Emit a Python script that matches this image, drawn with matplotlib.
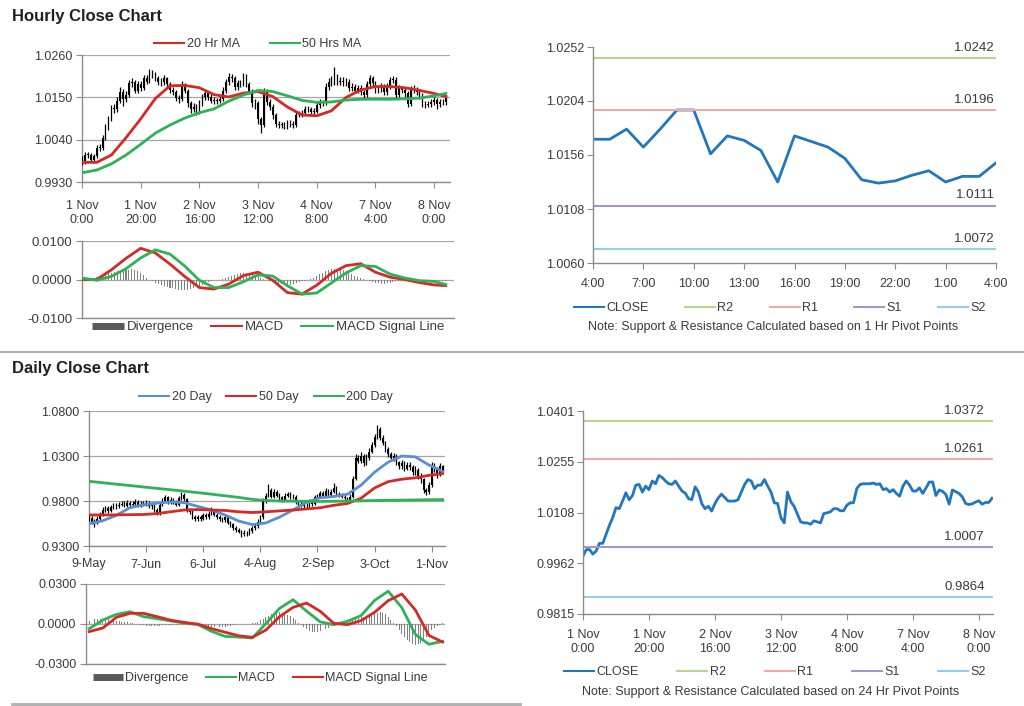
import matplotlib
matplotlib.use("Agg")  # no display
import matplotlib.pyplot as plt
from matplotlib.lines import Line2D

plt.rcParams["font.family"] = ["Liberation Sans", "DejaVu Sans"]

W, H = 1024, 706

# ---------------- hourly data (1 Nov 0:00 .. 8 Nov 4:00) ----------------
HOURLY_OPEN0 = 0.9990
HOURLY_CLOSE = [
    0.9982, 1.0001, 1.0001, 0.9988, 0.9997, 1.0019, 1.0019, 1.0045, 1.0071, 1.0093,
    1.0122, 1.0119, 1.0141, 1.0165, 1.0145, 1.0157, 1.0187, 1.0189, 1.0167, 1.0184,
    1.0174, 1.0199, 1.0191, 1.0215, 1.0209, 1.0199, 1.0191, 1.0189, 1.0199, 1.0184,
    1.0170, 1.0164, 1.0148, 1.0145, 1.0182, 1.0167, 1.0134, 1.0119, 1.0126, 1.0112,
    1.0134, 1.0150, 1.0161, 1.0151, 1.0141, 1.0141, 1.0141, 1.0145, 1.0167, 1.0189,
    1.0203, 1.0199, 1.0177, 1.0187, 1.0187, 1.0203, 1.0184, 1.0167, 1.0136, 1.0134,
    1.0093, 1.0078, 1.0167, 1.0139, 1.0126, 1.0103, 1.0081, 1.0078, 1.0078, 1.0074,
    1.0084, 1.0081, 1.0078, 1.0105, 1.0107, 1.0110, 1.0119, 1.0119, 1.0113, 1.0113,
    1.0129, 1.0136, 1.0136, 1.0177, 1.0189, 1.0191, 1.0191, 1.0191, 1.0193, 1.0189,
    1.0191, 1.0174, 1.0177, 1.0167, 1.0174, 1.0163, 1.0155, 1.0184, 1.0199, 1.0187,
    1.0170, 1.0170, 1.0179, 1.0163, 1.0179, 1.0196, 1.0196, 1.0157, 1.0173, 1.0169,
    1.0160, 1.0132, 1.0173, 1.0168, 1.0163, 1.0153, 1.0134, 1.0131, 1.0133, 1.0138,
    1.0142, 1.0132, 1.0137, 1.0137, 1.0149,
]
HOURLY_HIGH = [
    0.9998, 1.0008, 1.0009, 1.0006, 1.0004, 1.0025, 1.0028, 1.0052, 1.0080, 1.0102,
    1.0130, 1.0133, 1.0150, 1.0178, 1.0172, 1.0166, 1.0196, 1.0200, 1.0195, 1.0193,
    1.0192, 1.0208, 1.0207, 1.0224, 1.0222, 1.0216, 1.0206, 1.0199, 1.0207, 1.0204,
    1.0190, 1.0178, 1.0170, 1.0156, 1.0192, 1.0188, 1.0172, 1.0140, 1.0135, 1.0132,
    1.0142, 1.0158, 1.0170, 1.0166, 1.0158, 1.0150, 1.0149, 1.0154, 1.0176, 1.0198,
    1.0214, 1.0210, 1.0205, 1.0196, 1.0195, 1.0212, 1.0210, 1.0190, 1.0172, 1.0145,
    1.0140, 1.0100, 1.0175, 1.0172, 1.0146, 1.0132, 1.0110, 1.0088, 1.0086, 1.0085,
    1.0092, 1.0090, 1.0088, 1.0113, 1.0115, 1.0118, 1.0127, 1.0128, 1.0126, 1.0122,
    1.0138, 1.0145, 1.0144, 1.0186, 1.0200, 1.0205, 1.0228, 1.0210, 1.0203, 1.0202,
    1.0200, 1.0198, 1.0186, 1.0185, 1.0182, 1.0181, 1.0170, 1.0193, 1.0208, 1.0205,
    1.0193, 1.0179, 1.0188, 1.0185, 1.0187, 1.0204, 1.0206, 1.0202, 1.0181, 1.0180,
    1.0176, 1.0166, 1.0180, 1.0182, 1.0176, 1.0170, 1.0160, 1.0141, 1.0140, 1.0146,
    1.0150, 1.0148, 1.0145, 1.0145, 1.0156,
]
HOURLY_LOW = [
    0.9975, 0.9978, 0.9993, 0.9981, 0.9982, 0.9992, 1.0010, 1.0014, 1.0040, 1.0065,
    1.0088, 1.0110, 1.0112, 1.0136, 1.0128, 1.0138, 1.0150, 1.0176, 1.0160, 1.0160,
    1.0166, 1.0168, 1.0184, 1.0186, 1.0200, 1.0192, 1.0183, 1.0180, 1.0182, 1.0176,
    1.0162, 1.0155, 1.0140, 1.0136, 1.0140, 1.0160, 1.0125, 1.0110, 1.0112, 1.0104,
    1.0106, 1.0128, 1.0144, 1.0144, 1.0134, 1.0132, 1.0133, 1.0135, 1.0140, 1.0160,
    1.0182, 1.0190, 1.0170, 1.0170, 1.0178, 1.0180, 1.0176, 1.0158, 1.0126, 1.0120,
    1.0082, 1.0058, 1.0072, 1.0130, 1.0116, 1.0094, 1.0073, 1.0070, 1.0070, 1.0067,
    1.0068, 1.0073, 1.0071, 1.0074, 1.0098, 1.0100, 1.0104, 1.0111, 1.0106, 1.0105,
    1.0108, 1.0122, 1.0128, 1.0130, 1.0170, 1.0180, 1.0182, 1.0182, 1.0183, 1.0180,
    1.0180, 1.0166, 1.0166, 1.0160, 1.0160, 1.0155, 1.0146, 1.0150, 1.0178, 1.0180,
    1.0162, 1.0162, 1.0163, 1.0155, 1.0157, 1.0172, 1.0188, 1.0148, 1.0150, 1.0160,
    1.0152, 1.0124, 1.0127, 1.0160, 1.0155, 1.0145, 1.0126, 1.0123, 1.0124, 1.0126,
    1.0130, 1.0120, 1.0125, 1.0129, 1.0130,
]
HOURLY_TICK_STEP = 20
HOURLY_TICKS = ["1 Nov\n0:00", "1 Nov\n20:00", "2 Nov\n16:00", "3 Nov\n12:00",
                "4 Nov\n8:00", "7 Nov\n4:00", "8 Nov\n0:00"]

# moving averages / MACD read every MA_STEP bars (last point = last bar)
MA_STEP = 5
HOURLY_MA20 = [
    0.9981, 0.9981, 1.0000, 1.0045, 1.0094, 1.0147, 1.0180, 1.0181, 1.0175, 1.0157,
    1.0151, 1.0161, 1.0165, 1.0152, 1.0125, 1.0104, 1.0102, 1.0115, 1.0150, 1.0169,
    1.0178, 1.0178, 1.0175, 1.0168, 1.0160, 1.0152,
]
HOURLY_MA50 = [
    0.9954, 0.9961, 0.9977, 1.0000, 1.0028, 1.0057, 1.0078, 1.0096, 1.0110, 1.0120,
    1.0140, 1.0156, 1.0168, 1.0165, 1.0154, 1.0142, 1.0137, 1.0138, 1.0143, 1.0145,
    1.0145, 1.0145, 1.0146, 1.0148, 1.0154, 1.0160,
]
HOURLY_MACD = [
    0.0000, 0.0000, 0.0025, 0.0055, 0.0081, 0.0069, 0.0040, 0.0008, -0.0021, -0.0025,
    -0.0012, 0.0010, 0.0019, -0.0002, -0.0034, -0.0038, -0.0015, 0.0016, 0.0036, 0.0041,
    0.0019, 0.0006, 0.0000, -0.0008, -0.0014, -0.0016,
]
HOURLY_SIGNAL = [
    0.0004, -0.0002, 0.0008, 0.0028, 0.0056, 0.0077, 0.0066, 0.0035, -0.0002, -0.0021,
    -0.0021, -0.0006, 0.0012, 0.0009, -0.0016, -0.0038, -0.0035, -0.0009, 0.0017, 0.0036,
    0.0034, 0.0014, 0.0004, -0.0003, -0.0005, -0.0013,
]
HOURLY_DIVERGENCE = [
    0.0000, 0.0001, 0.0002, 0.0003, 0.0005, 0.0007, 0.0009, 0.0012, 0.0014, 0.0016,
    0.0018, 0.0019, 0.0021, 0.0022, 0.0024, 0.0025, 0.0025, 0.0026, 0.0025, 0.0023,
    0.0018, 0.0012, 0.0005, -0.0001, -0.0005, -0.0008, -0.0011, -0.0014, -0.0017, -0.0019,
    -0.0021, -0.0023, -0.0025, -0.0026, -0.0027, -0.0027, -0.0026, -0.0025, -0.0023, -0.0020,
    -0.0018, -0.0014, -0.0010, -0.0006, -0.0004, -0.0002, -0.0001, 0.0000, 0.0001, 0.0003,
    0.0006, 0.0009, 0.0012, 0.0014, 0.0016, 0.0017, 0.0017, 0.0016, 0.0014, 0.0011,
    0.0008, 0.0005, 0.0002, -0.0002, -0.0004, -0.0007, -0.0009, -0.0011, -0.0012, -0.0013,
    -0.0014, -0.0013, -0.0012, -0.0010, -0.0007, -0.0005, -0.0003, -0.0001, 0.0002, 0.0005,
    0.0009, 0.0013, 0.0017, 0.0021, 0.0024, 0.0026, 0.0027, 0.0027, 0.0026, 0.0024,
    0.0021, 0.0017, 0.0013, 0.0009, 0.0006, 0.0003, 0.0001, -0.0002, -0.0004, -0.0007,
    -0.0009, -0.0010, -0.0011, -0.0011, -0.0010, -0.0008, -0.0006, -0.0004, -0.0003, -0.0002,
    -0.0001, 0.0000, -0.0001, -0.0002, -0.0003, -0.0004, -0.0005, -0.0005, -0.0006, -0.0006,
    -0.0007, -0.0006, -0.0005, -0.0004, -0.0003,
]

# last 24 hours (4:00 .. 4:00) shown on the 1 Hr pivot chart
LAST24_TICKS = ["4:00", "7:00", "10:00", "13:00", "16:00", "19:00", "22:00", "1:00", "4:00"]
PIVOT_NAMES = ["R2", "R1", "S1", "S2"]
PIVOT_1H = [1.0242, 1.0196, 1.0111, 1.0072]
PIVOT_24H = [1.0372, 1.0261, 1.0007, 0.9864]

# ---------------- daily data (9 May .. 8 Nov) ----------------
DAILY_OPEN0 = 0.9640
DAILY_CLOSE = [
    0.9610, 0.9570, 0.9560, 0.9600, 0.9650, 0.9700, 0.9720, 0.9690, 0.9730, 0.9750,
    0.9740, 0.9760, 0.9770, 0.9750, 0.9780, 0.9760, 0.9770, 0.9790, 0.9750, 0.9770,
    0.9760, 0.9780, 0.9740, 0.9760, 0.9700, 0.9660, 0.9760, 0.9800, 0.9840, 0.9790,
    0.9810, 0.9790, 0.9760, 0.9830, 0.9870, 0.9820, 0.9700, 0.9680, 0.9620, 0.9600,
    0.9620, 0.9600, 0.9640, 0.9620, 0.9660, 0.9700, 0.9650, 0.9620, 0.9600, 0.9590,
    0.9620, 0.9560, 0.9540, 0.9500, 0.9480, 0.9460, 0.9430, 0.9450, 0.9440, 0.9470,
    0.9500, 0.9520, 0.9570, 0.9620, 0.9800, 0.9860, 0.9920, 0.9850, 0.9900, 0.9860,
    0.9840, 0.9810, 0.9860, 0.9880, 0.9840, 0.9850, 0.9790, 0.9770, 0.9760, 0.9740,
    0.9750, 0.9790, 0.9770, 0.9840, 0.9850, 0.9890, 0.9860, 0.9910, 0.9870, 0.9900,
    0.9950, 0.9880, 0.9860, 0.9850, 0.9830, 0.9800, 0.9850, 1.0050, 1.0280, 1.0250,
    1.0300, 1.0220, 1.0280, 1.0350, 1.0420, 1.0510, 1.0600, 1.0500, 1.0450, 1.0380,
    1.0320, 1.0280, 1.0300, 1.0230, 1.0190, 1.0220, 1.0160, 1.0200, 1.0180, 1.0120,
    1.0150, 1.0080, 1.0040, 0.9920, 0.9900, 0.9980, 1.0190, 1.0150, 1.0110, 1.0190,
    1.0149,
]
DAILY_HIGH = [
    0.9660, 0.9630, 0.9600, 0.9630, 0.9680, 0.9730, 0.9750, 0.9740, 0.9760, 0.9780,
    0.9775, 0.9790, 0.9800, 0.9795, 0.9810, 0.9800, 0.9805, 0.9825, 0.9810, 0.9800,
    0.9800, 0.9810, 0.9800, 0.9790, 0.9775, 0.9720, 0.9790, 0.9830, 0.9870, 0.9855,
    0.9840, 0.9830, 0.9810, 0.9860, 0.9900, 0.9890, 0.9835, 0.9725, 0.9700, 0.9645,
    0.9650, 0.9645, 0.9670, 0.9665, 0.9690, 0.9730, 0.9715, 0.9670, 0.9640, 0.9625,
    0.9645, 0.9635, 0.9580, 0.9560, 0.9525, 0.9500, 0.9480, 0.9475, 0.9470, 0.9495,
    0.9525, 0.9550, 0.9600, 0.9650, 0.9830, 0.9890, 0.9990, 0.9940, 0.9930, 0.9925,
    0.9885, 0.9860, 0.9890, 0.9905, 0.9900, 0.9880, 0.9870, 0.9810, 0.9795, 0.9780,
    0.9780, 0.9820, 0.9810, 0.9870, 0.9880, 0.9915, 0.9910, 0.9940, 0.9930, 0.9930,
    1.0000, 0.9965, 0.9900, 0.9885, 0.9870, 0.9850, 0.9880, 1.0080, 1.0320, 1.0310,
    1.0340, 1.0320, 1.0320, 1.0390, 1.0460, 1.0550, 1.0650, 1.0620, 1.0530, 1.0470,
    1.0400, 1.0340, 1.0330, 1.0320, 1.0250, 1.0260, 1.0240, 1.0230, 1.0230, 1.0200,
    1.0190, 1.0170, 1.0110, 1.0060, 0.9950, 1.0010, 1.0230, 1.0220, 1.0180, 1.0225,
    1.0200,
]
DAILY_LOW = [
    0.9580, 0.9540, 0.9510, 0.9545, 0.9590, 0.9635, 0.9680, 0.9670, 0.9675, 0.9710,
    0.9715, 0.9720, 0.9740, 0.9730, 0.9735, 0.9740, 0.9745, 0.9755, 0.9730, 0.9730,
    0.9740, 0.9745, 0.9720, 0.9715, 0.9680, 0.9640, 0.9650, 0.9745, 0.9785, 0.9770,
    0.9770, 0.9765, 0.9740, 0.9750, 0.9815, 0.9800, 0.9680, 0.9655, 0.9600, 0.9575,
    0.9580, 0.9580, 0.9585, 0.9600, 0.9605, 0.9645, 0.9630, 0.9600, 0.9575, 0.9565,
    0.9570, 0.9540, 0.9515, 0.9480, 0.9455, 0.9440, 0.9400, 0.9410, 0.9415, 0.9420,
    0.9450, 0.9480, 0.9500, 0.9550, 0.9600, 0.9780, 0.9840, 0.9830, 0.9830, 0.9840,
    0.9815, 0.9790, 0.9795, 0.9840, 0.9820, 0.9820, 0.9770, 0.9745, 0.9735, 0.9715,
    0.9720, 0.9730, 0.9750, 0.9755, 0.9820, 0.9830, 0.9840, 0.9845, 0.9850, 0.9855,
    0.9885, 0.9860, 0.9840, 0.9830, 0.9805, 0.9775, 0.9785, 0.9835, 1.0030, 1.0220,
    1.0220, 1.0190, 1.0200, 1.0260, 1.0330, 1.0400, 1.0490, 1.0480, 1.0420, 1.0350,
    1.0290, 1.0250, 1.0250, 1.0200, 1.0160, 1.0160, 1.0130, 1.0140, 1.0150, 1.0090,
    1.0090, 1.0050, 1.0000, 0.9890, 0.9870, 0.9880, 0.9960, 1.0120, 1.0060, 1.0080,
    1.0120,
]
DAILY_TICK_STEP = 21
DAILY_TICKS = ["9-May", "7-Jun", "6-Jul", "4-Aug", "2-Sep", "3-Oct", "1-Nov"]

DAILY_MA20 = [
    0.9549, 0.9580, 0.9640, 0.9725, 0.9758, 0.9776, 0.9789, 0.9782, 0.9740, 0.9700,
    0.9645, 0.9578, 0.9538, 0.9556, 0.9620, 0.9700, 0.9785, 0.9836, 0.9850, 0.9875,
    0.9975, 1.0120, 1.0232, 1.0300, 1.0290, 1.0200, 1.0130,
]
DAILY_MA50 = [
    0.9645, 0.9645, 0.9646, 0.9648, 0.9650, 0.9660, 0.9680, 0.9700, 0.9705, 0.9700,
    0.9695, 0.9680, 0.9672, 0.9680, 0.9690, 0.9700, 0.9712, 0.9725, 0.9752, 0.9772,
    0.9830, 0.9945, 1.0015, 1.0042, 1.0058, 1.0085, 1.0104,
]
DAILY_MA200 = [
    1.0019, 1.0003, 0.9987, 0.9972, 0.9956, 0.9940, 0.9925, 0.9909, 0.9893, 0.9876,
    0.9858, 0.9840, 0.9818, 0.9806, 0.9800, 0.9798, 0.9796, 0.9795, 0.9797, 0.9799,
    0.9802, 0.9805, 0.9808, 0.9810, 0.9812, 0.9814, 0.9816,
]
DAILY_MACD = [
    -0.0035, 0.0030, 0.0072, 0.0092, 0.0055, 0.0040, 0.0023, 0.0007, -0.0004, -0.0055,
    -0.0093, -0.0098, -0.0105, 0.0003, 0.0117, 0.0182, 0.0096, 0.0016, -0.0005, 0.0020,
    0.0063, 0.0177, 0.0246, 0.0123, -0.0079, -0.0152, -0.0130,
]
DAILY_SIGNAL = [
    -0.0057, -0.0030, 0.0050, 0.0080, 0.0080, 0.0055, 0.0028, 0.0012, -0.0001, -0.0035,
    -0.0062, -0.0088, -0.0100, -0.0045, 0.0055, 0.0125, 0.0157, 0.0095, 0.0005, -0.0005,
    0.0025, 0.0088, 0.0175, 0.0225, 0.0105, -0.0086, -0.0135,
]
DAILY_DIVERGENCE = [
    0.0020, 0.0028, 0.0034, 0.0038, 0.0040, 0.0040, 0.0038, 0.0034, 0.0030, 0.0026,
    0.0022, 0.0020, 0.0018, 0.0015, 0.0012, 0.0010, 0.0006, 0.0002, -0.0002, -0.0006,
    -0.0010, -0.0012, -0.0013, -0.0014, -0.0014, -0.0013, -0.0012, -0.0011, -0.0010, -0.0008,
    -0.0006, -0.0005, -0.0004, -0.0003, -0.0002, -0.0002, -0.0001, -0.0001, -0.0001, -0.0002,
    -0.0004, -0.0008, -0.0012, -0.0016, -0.0020, -0.0022, -0.0024, -0.0025, -0.0024, -0.0022,
    -0.0020, -0.0016, -0.0012, -0.0008, -0.0005, -0.0003, -0.0002, -0.0001, 0.0000, 0.0001,
    0.0004, 0.0010, 0.0018, 0.0028, 0.0040, 0.0052, 0.0062, 0.0072, 0.0080, 0.0086,
    0.0088, 0.0086, 0.0080, 0.0070, 0.0058, 0.0044, 0.0028, 0.0010, -0.0008, -0.0025,
    -0.0040, -0.0052, -0.0060, -0.0062, -0.0060, -0.0055, -0.0047, -0.0038, -0.0028, -0.0018,
    -0.0010, -0.0004, 0.0002, 0.0008, 0.0014, 0.0020, 0.0026, 0.0032, 0.0038, 0.0044,
    0.0050, 0.0056, 0.0062, 0.0068, 0.0074, 0.0080, 0.0085, 0.0088, 0.0084, 0.0072,
    0.0055, 0.0032, 0.0008, -0.0018, -0.0045, -0.0072, -0.0098, -0.0120, -0.0138, -0.0150,
    -0.0155, -0.0152, -0.0140, -0.0120, -0.0095, -0.0070, -0.0048, -0.0030, -0.0015, -0.0005,
    0.0008,
]

# ---------------- styles ----------------
C_RED = "#d42a26"
C_GREEN = "#2eb257"
C_BLUE20 = "#5a8fd2"
C_CLOSE = "#2176bd"
C_PIVOT = ["#b9d48f", "#f2a9a6", "#a794c8", "#92cfe6"]
C_AXIS = "#8c8c8c"
C_GRID = "#a6a6a6"
C_TEXT = "#3a3a3a"
C_HIST = "#808080"
FS = 9


def px_axes(fig, left, top, right, bottom):
    """Add axes from a pixel box (origin top-left)."""
    return fig.add_axes([left / W, 1 - bottom / H, (right - left) / W, (bottom - top) / H])


def style_axes(ax, grid=False):
    for side in ("top", "right"):
        ax.spines[side].set_visible(False)
    for side in ("left", "bottom"):
        ax.spines[side].set_color(C_AXIS)
        ax.spines[side].set_linewidth(1.0)
    ax.tick_params(colors=C_AXIS, labelcolor=C_TEXT, labelsize=FS, length=4, width=0.8)
    if grid:
        ax.yaxis.grid(True, color=C_GRID, linewidth=0.9)
        ax.set_axisbelow(True)


def sampled_x(n_values, n_bars):
    xs = [i * MA_STEP for i in range(n_values)]
    xs[-1] = n_bars - 1
    return xs


def draw_candles(ax, open0, close, high, low, body_w):
    n = len(close)
    opens = [open0] + close[:-1]
    xs = range(n)
    ax.vlines(xs, low, high, color="black", linewidth=0.9, zorder=3)
    bottoms = [min(o, c) for o, c in zip(opens, close)]
    heights = [max(abs(c - o), 0.00015) for o, c in zip(opens, close)]
    ax.bar(xs, heights, bottom=bottoms, width=body_w, color="black", linewidth=0, zorder=3)


def ma_legend(fig, cx, cy, items, colspace, fontsize=FS):
    handles = []
    for label, color, kind in items:
        if kind == "bar":
            handles.append(Line2D([], [], color="#595959", linewidth=5, solid_capstyle="butt", label=label))
        else:
            handles.append(Line2D([], [], color=color, linewidth=1.5, label=label))
    leg = fig.legend(handles=handles, loc="center", bbox_to_anchor=(cx / W, 1 - cy / H),
                     ncol=len(handles), frameon=False, fontsize=fontsize, handlelength=2.4,
                     handletextpad=0.2, columnspacing=colspace, borderpad=0, borderaxespad=0)
    for t in leg.get_texts():
        t.set_color(C_TEXT)
    return leg


def pivot_chart(ax, xs, closes, levels, yticks, xticks, xlabels, label_dx):
    style_axes(ax)
    for level, color in zip(levels, C_PIVOT):
        ax.axhline(level, color=color, linewidth=1.5, zorder=2)
    ax.plot(xs, closes, color=C_CLOSE, linewidth=2.0, zorder=1)
    for level in levels:
        ax.annotate(f"{level:.4f}", xy=(1, level), xycoords=("axes fraction", "data"),
                    xytext=(label_dx, 3), textcoords="offset points",
                    ha="right", va="bottom", fontsize=FS + 0.5, color=C_TEXT)
    ax.set_ylim(yticks[0], yticks[-1])
    ax.set_yticks(yticks)
    ax.set_yticklabels([f"{v:.4f}" for v in yticks])
    ax.set_xticks(xticks)
    ax.set_xticklabels(xlabels)
    ax.tick_params(axis="x", pad=7)
    ax.tick_params(axis="y", pad=2)


fig = plt.figure(figsize=(W / 100, H / 100), dpi=100)
fig.patch.set_facecolor("white")

# ---------------- titles and separators ----------------
fig.text(12 / W, 1 - 16 / H, "Hourly Close Chart", fontsize=12, fontweight="bold",
         color="#202020", va="center")
fig.text(12 / W, 1 - 369 / H, "Daily Close Chart", fontsize=12, fontweight="bold",
         color="#202020", va="center")
fig.add_artist(Line2D([0, 1], [1 - 352 / H, 1 - 352 / H], color="#b0b0b0", linewidth=1.5))
fig.add_artist(Line2D([12 / W, 520 / W], [1 - 704 / H, 1 - 704 / H], color="#b0b0b0", linewidth=2))

n_h = len(HOURLY_CLOSE)
n_d = len(DAILY_CLOSE)

# ---------------- hourly candles + MA ----------------
ax = px_axes(fig, 82, 55, 450, 182)
style_axes(ax, grid=True)
draw_candles(ax, HOURLY_OPEN0, HOURLY_CLOSE, HOURLY_HIGH, HOURLY_LOW, 0.55)
ax.plot(sampled_x(len(HOURLY_MA20), n_h), HOURLY_MA20, color=C_RED, linewidth=2.0, zorder=4)
ax.plot(sampled_x(len(HOURLY_MA50), n_h), HOURLY_MA50, color=C_GREEN, linewidth=2.0, zorder=4)
ax.set_xlim(0, 125.4)
ax.set_ylim(0.9930, 1.0260)
ax.set_yticks([0.9930, 1.0040, 1.0150, 1.0260])
ax.set_yticklabels(["0.9930", "1.0040", "1.0150", "1.0260"])
ax.set_xticks([i * HOURLY_TICK_STEP for i in range(len(HOURLY_TICKS))])
ax.set_xticklabels(HOURLY_TICKS, linespacing=1.2)
ax.tick_params(axis="x", pad=9)
ax.tick_params(axis="y", pad=3)
ma_legend(fig, 258, 44, [("20 Hr MA", C_RED, "line"), ("50 Hrs MA", C_GREEN, "line")], 2.4)

# ---------------- hourly MACD ----------------
ax = px_axes(fig, 82, 241, 454, 318)
style_axes(ax, grid=True)
ax.bar(range(n_h), HOURLY_DIVERGENCE, width=0.35, color=C_HIST, linewidth=0, zorder=2)
ax.plot(sampled_x(len(HOURLY_MACD), n_h), HOURLY_MACD, color=C_RED, linewidth=2.0, zorder=3)
ax.plot(sampled_x(len(HOURLY_SIGNAL), n_h), HOURLY_SIGNAL, color=C_GREEN, linewidth=2.0, zorder=3)
ax.set_xlim(0, 126.8)
ax.set_ylim(-0.01, 0.01)
ax.set_yticks([-0.01, 0.0, 0.01])
ax.set_yticklabels(["-0.0100", "0.0000", "0.0100"])
ax.set_xticks([])
ax.tick_params(axis="y", pad=3, labelsize=FS + 0.5)
ma_legend(fig, 268, 327, [("Divergence", None, "bar"), ("MACD", C_RED, "line"),
                          ("MACD Signal Line", C_GREEN, "line")], 1.3, fontsize=FS + 0.5)

# ---------------- 1 Hr pivot chart ----------------
ax = px_axes(fig, 593, 47, 996, 263)
last24 = HOURLY_CLOSE[-25:]
ax.set_xlim(0, len(last24) - 1)
pivot_chart(ax, range(len(last24)), last24, PIVOT_1H,
            [1.0060, 1.0108, 1.0156, 1.0204, 1.0252],
            [i * 3 for i in range(len(LAST24_TICKS))], LAST24_TICKS, -1)
ma_legend(fig, 780, 308, [("CLOSE", C_CLOSE, "line")] +
          [(n, c, "line") for n, c in zip(PIVOT_NAMES, C_PIVOT)], 2.9)
fig.text(773 / W, 1 - 327 / H, "Note: Support & Resistance Calculated based on 1 Hr Pivot Points",
         ha="center", va="center", fontsize=FS, color=C_TEXT)

# ---------------- daily candles + MA ----------------
ax = px_axes(fig, 89, 411, 445, 546)
style_axes(ax, grid=True)
draw_candles(ax, DAILY_OPEN0, DAILY_CLOSE, DAILY_HIGH, DAILY_LOW, 0.55)
ax.plot(sampled_x(len(DAILY_MA20), n_d), DAILY_MA20, color=C_BLUE20, linewidth=2.0, zorder=4)
ax.plot(sampled_x(len(DAILY_MA50), n_d), DAILY_MA50, color=C_RED, linewidth=2.0, zorder=4)
ax.plot(sampled_x(len(DAILY_MA200), n_d), DAILY_MA200, color=C_GREEN, linewidth=2.0, zorder=4)
ax.set_xlim(0, 130.9)
ax.set_ylim(0.93, 1.08)
ax.set_yticks([0.93, 0.98, 1.03, 1.08])
ax.set_yticklabels(["0.9300", "0.9800", "1.0300", "1.0800"])
ax.set_xticks([i * DAILY_TICK_STEP for i in range(len(DAILY_TICKS))])
ax.set_xticklabels(DAILY_TICKS)
ax.tick_params(axis="x", pad=5)
ax.tick_params(axis="y", pad=3)
ma_legend(fig, 266, 397, [("20 Day", C_BLUE20, "line"), ("50 Day", C_RED, "line"),
                          ("200 Day", C_GREEN, "line")], 1.2)

# ---------------- daily MACD ----------------
ax = px_axes(fig, 86, 584, 445, 664)
style_axes(ax, grid=True)
ax.bar(range(n_d), DAILY_DIVERGENCE, width=0.35, color=C_HIST, linewidth=0, zorder=2)
ax.plot(sampled_x(len(DAILY_MACD), n_d), DAILY_MACD, color=C_GREEN, linewidth=2.0, zorder=3)
ax.plot(sampled_x(len(DAILY_SIGNAL), n_d), DAILY_SIGNAL, color=C_RED, linewidth=2.0, zorder=3)
ax.set_xlim(-1.2, 130.9)
ax.set_ylim(-0.03, 0.03)
ax.set_yticks([-0.03, 0.0, 0.03])
ax.set_yticklabels(["-0.0300", "0.0000", "0.0300"])
ax.set_xticks([])
ax.tick_params(axis="y", pad=3)
ma_legend(fig, 260, 678, [("Divergence", None, "bar"), ("MACD", C_GREEN, "line"),
                          ("MACD Signal Line", C_RED, "line")], 1.4)

# ---------------- 24 Hr pivot chart ----------------
ax = px_axes(fig, 583, 411, 993, 614)
ax.set_xlim(0, 124.3)
pivot_chart(ax, range(n_h), HOURLY_CLOSE, PIVOT_24H,
            [0.9815, 0.9962, 1.0108, 1.0255, 1.0401],
            [i * HOURLY_TICK_STEP for i in range(len(HOURLY_TICKS))], HOURLY_TICKS, -6)
for t in ax.get_xticklabels():
    t.set_linespacing(1.2)
ma_legend(fig, 775, 672, [("CLOSE", C_CLOSE, "line")] +
          [(n, c, "line") for n, c in zip(PIVOT_NAMES, C_PIVOT)], 3.1)
fig.text(771 / W, 1 - 692 / H, "Note: Support & Resistance Calculated based on 24 Hr Pivot Points",
         ha="center", va="center", fontsize=FS, color=C_TEXT)

fig.savefig("out.png", dpi=100, facecolor="white")
